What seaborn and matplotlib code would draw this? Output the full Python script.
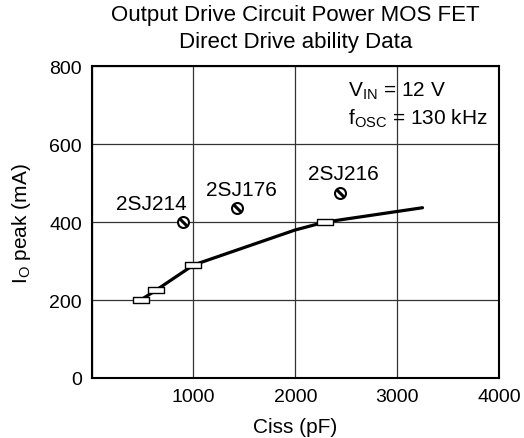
import numpy as np
import pandas as pd
import matplotlib
matplotlib.use("Agg")
import matplotlib.pyplot as plt
from matplotlib.path import Path
import seaborn as sns

# curve (Ciss vs Io peak)
curve_ciss = [480, 630, 1000, 2000, 2290, 3250]
curve_io = [200, 225, 290, 380, 400, 437]
# measured points on the curve (open rectangles)
rect_ciss = [480, 630, 1000, 2290]
rect_io = [200, 225, 290, 400]
# individual devices
dev_names = ["2SJ214", "2SJ176", "2SJ216"]
dev_ciss = [900, 1430, 2435]
dev_io = [400, 436, 476]

sns.set_style("white")
plt.rcParams["font.family"] = ["Liberation Sans", "DejaVu Sans"]
plt.rcParams["mathtext.fontset"] = "custom"
plt.rcParams["mathtext.rm"] = "Liberation Sans"
for k in ["text.color", "axes.labelcolor", "xtick.color", "ytick.color"]:
    plt.rcParams[k] = "black"

fig = plt.figure(figsize=(5.24, 4.39), dpi=100)
ax = fig.add_axes([0.175, 0.1367, 0.777, 0.71])

curve = pd.DataFrame({"ciss": curve_ciss, "io": curve_io})
sns.lineplot(data=curve, x="ciss", y="io", ax=ax, color="black", lw=2.3,
             sort=False, zorder=3)

rect = Path([(-1, -0.45), (1, -0.45), (1, 0.45), (-1, 0.45), (-1, -0.45)],
            [Path.MOVETO, Path.LINETO, Path.LINETO, Path.LINETO, Path.CLOSEPOLY])
sns.scatterplot(x=rect_ciss, y=rect_io, ax=ax, marker=rect, s=125,
                facecolor="white", edgecolor="black", linewidth=1.0, zorder=4)

# circle with a diagonal slash
sns.scatterplot(x=dev_ciss, y=dev_io, ax=ax, marker="o", s=62,
                facecolor="white", edgecolor="black", linewidth=1.5, zorder=4)
slash = Path([(-0.5, 0.5), (0.5, -0.5)], [Path.MOVETO, Path.LINETO])
ax.scatter(dev_ciss, dev_io, marker=slash, s=30, color="black",
           linewidths=2.2, zorder=5)

label_dx = [-310, 45, 35]
label_dy = [49, 49, 49]
for name, xc, yc, dx, dy in zip(dev_names, dev_ciss, dev_io, label_dx, label_dy):
    ax.text(xc + dx, yc + dy, name, ha="center", va="center", fontsize=15)

ax.text(2520, 738, r"V$_\mathrm{IN}$ = 12 V", fontsize=15, va="center")
ax.text(2520, 669, r"f$_\mathrm{OSC}$ = 130 kHz", fontsize=15, va="center")

ax.set_xlim(0, 4000)
ax.set_ylim(0, 800)
ax.set_xticks([0, 1000, 2000, 3000, 4000])
ax.set_xticklabels(["", "1000", "2000", "3000", "4000"])
ax.set_yticks([0, 200, 400, 600, 800])
ax.grid(True, color="#333333", lw=0.9)
for s in ax.spines.values():
    s.set_color("black")
    s.set_linewidth(1.5)
ax.tick_params(labelsize=14, length=0, pad=7)
ax.set_xlabel("Ciss (pF)", fontsize=15, labelpad=9)
ax.set_ylabel(r"I$_\mathrm{O}$ peak (mA)", fontsize=15, labelpad=12)
ax.set_title("Output Drive Circuit Power MOS FET\nDirect Drive ability Data",
             fontsize=16, pad=14, linespacing=1.38)

fig.savefig("out.png", dpi=100)
